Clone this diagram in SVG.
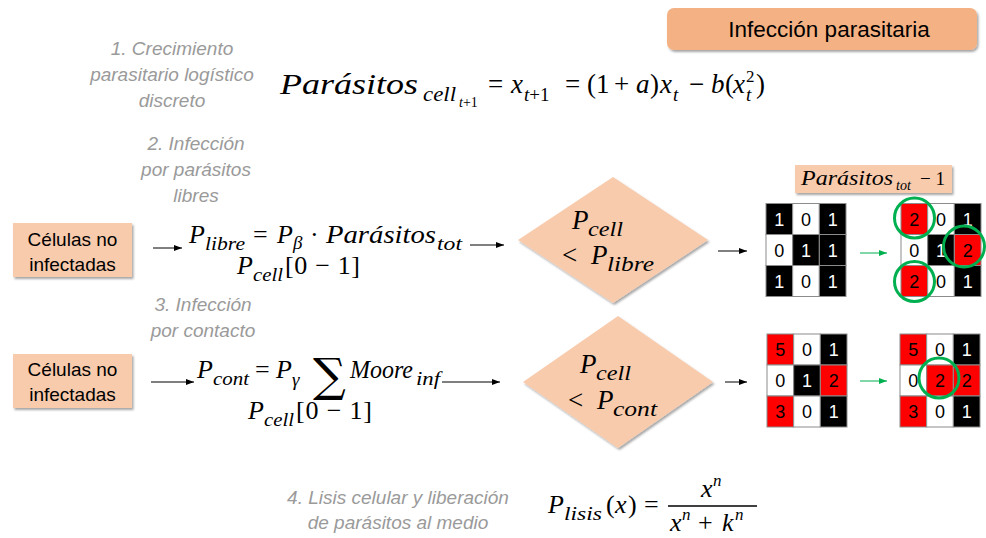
<svg xmlns="http://www.w3.org/2000/svg" width="986" height="538" viewBox="0 0 986 538">
<defs>
<style>
.m{font-family:"Liberation Serif","Times New Roman",serif;font-style:italic;fill:#000}
.u{font-style:normal}
.sig{font-family:"DejaVu Serif",serif;font-style:normal}
.f30{font-size:30px}.f27{font-size:27px}.f26{font-size:26px}.f21{font-size:21px}.f20{font-size:20px}.f19{font-size:19px}.f17{font-size:17px}.f14{font-size:14px}
.g{font-family:"Liberation Sans",Arial,sans-serif;font-style:italic;font-size:19px;fill:#9a9a9a;text-anchor:middle}
.lb{font-family:"Liberation Sans",Arial,sans-serif;font-size:19px;fill:#000;text-anchor:middle}
.dg{font-family:"Liberation Sans",Arial,sans-serif;font-size:18px;text-anchor:middle}
.peach{fill:#F8CBAD}
.cell{stroke:#8c8c8c;stroke-width:1}
.B{fill:#000}.W{fill:#fff}.R{fill:#FF0000}
.tw{fill:#fff}.tb{fill:#000}
.ring{fill:none;stroke:#00B050;stroke-width:3}
.ar{stroke:#000;stroke-width:1;fill:none;marker-end:url(#ah)}
.ag{stroke:#00B050;stroke-width:1;fill:none;marker-end:url(#ahg)}
</style>
<filter id="sh" x="-10%" y="-10%" width="125%" height="135%">
<feDropShadow dx="1.5" dy="2" stdDeviation="1.2" flood-color="#000" flood-opacity="0.35"/>
</filter>
<marker id="ah" viewBox="0 0 8 6" refX="8" refY="3" markerWidth="8" markerHeight="6" markerUnits="userSpaceOnUse" orient="auto">
<path d="M0,0 L8,3 L0,6 Z" fill="#000"/>
</marker>
<marker id="ahg" viewBox="0 0 8 6" refX="8" refY="3" markerWidth="8" markerHeight="6" markerUnits="userSpaceOnUse" orient="auto">
<path d="M0,0 L8,3 L0,6 Z" fill="#00B050"/>
</marker>
</defs>
<rect width="986" height="538" fill="#fff"/>

<g id="title">
<rect x="667" y="8" width="310" height="42" rx="7" fill="#F4B183" filter="url(#sh)"/>
<text x="829" y="37" font-family="Liberation Sans, Arial, sans-serif" font-size="22.5" text-anchor="middle" fill="#000">Infección parasitaria</text>
</g>

<g id="label-1">
<text class="g" x="172" y="55">1. Crecimiento</text>
<text class="g" x="172" y="81">parasitario logístico</text>
<text class="g" x="172" y="107">discreto</text>
</g>

<g id="formula-1">
<text class="m f30" x="280" y="94" textLength="138" lengthAdjust="spacingAndGlyphs">Parásitos</text>
<text class="m f20" x="423" y="101" textLength="33" lengthAdjust="spacingAndGlyphs">cell</text>
<text class="m f14" x="459" y="107">t<tspan class="u">+1</tspan></text>
<text class="m f27">
<tspan x="488" y="93" class="u">=</tspan>
<tspan x="511" y="93">x</tspan>
<tspan x="524" y="101" class="f19">t</tspan><tspan class="u f19">+1</tspan>
<tspan x="565" y="93" class="u">=</tspan>
<tspan x="587" y="93" class="u">(1</tspan>
<tspan x="614" y="93" class="u">+</tspan>
<tspan x="636" y="93">a</tspan>
<tspan x="650" y="93" class="u">)</tspan>
<tspan x="660" y="93">x</tspan>
<tspan x="673" y="101" class="f19">t</tspan>
<tspan x="689" y="93" class="u">−</tspan>
<tspan x="711" y="93">b</tspan>
<tspan x="725" y="93" class="u">(</tspan>
<tspan x="733" y="93">x</tspan>
<tspan x="746" y="82" class="u f17">2</tspan>
<tspan x="746" y="101" class="f19">t</tspan>
<tspan x="756" y="93" class="u">)</tspan>
</text>
</g>

<g id="label-2">
<text class="g" x="196" y="150">2. Infección</text>
<text class="g" x="196" y="176">por parásitos</text>
<text class="g" x="196" y="202">libres</text>
</g>

<g id="cells-1">
<rect x="13" y="223" width="119" height="54" class="peach" filter="url(#sh)"/>
<text class="lb" x="72.5" y="246">Células no</text>
<text class="lb" x="72.5" y="271">infectadas</text>
</g>

<g id="formula-2">
<text class="m f26" x="189" y="243">P</text>
<text class="m f19" x="205" y="250" textLength="40" lengthAdjust="spacingAndGlyphs">libre</text>
<text class="m f26">
<tspan x="253" y="243" class="u">=</tspan>
<tspan x="277" y="243">P</tspan>
<tspan x="293" y="249" class="f19">β</tspan>
<tspan x="310" y="243" class="u">·</tspan>
</text>
<text class="m f26" x="326" y="243" textLength="110" lengthAdjust="spacingAndGlyphs">Parásitos</text>
<text class="m f19" x="437" y="250" textLength="25" lengthAdjust="spacingAndGlyphs">tot</text>
<text class="m f26" x="237" y="274">P</text>
<text class="m f19" x="253" y="281" textLength="30" lengthAdjust="spacingAndGlyphs">cell</text>
<text class="m u f26" x="285" y="274" textLength="75" lengthAdjust="spacing">[0 − 1]</text>
</g>

<g id="decision-1">
<polygon points="518,240 613,177 708,240 613,303" class="peach" filter="url(#sh)"/>
<text class="m f27" x="572" y="229">P</text>
<text class="m f21" x="588" y="236" textLength="35" lengthAdjust="spacingAndGlyphs">cell</text>
<text class="m u f27" x="562" y="264">&lt;</text>
<text class="m f27" x="591" y="264">P</text>
<text class="m f21" x="607" y="271" textLength="47" lengthAdjust="spacingAndGlyphs">libre</text>
</g>

<g id="label-parasitos">
<rect x="795" y="165" width="157" height="28" class="peach" filter="url(#sh)"/>
<text class="m f20" x="801" y="185" textLength="92" lengthAdjust="spacingAndGlyphs">Parásitos</text>
<text class="m f14" x="896" y="190">tot</text>
<text class="m u f19" x="920" y="185">− 1</text>
</g>

<g id="grid-1" transform="translate(766,203.5)">
<rect class="cell B" x="0" y="0" width="26.67" height="31"/><rect class="cell W" x="26.67" y="0" width="26.67" height="31"/><rect class="cell B" x="53.33" y="0" width="26.67" height="31"/>
<rect class="cell W" x="0" y="31" width="26.67" height="31"/><rect class="cell B" x="26.67" y="31" width="26.67" height="31"/><rect class="cell B" x="53.33" y="31" width="26.67" height="31"/>
<rect class="cell B" x="0" y="62" width="26.67" height="31"/><rect class="cell W" x="26.67" y="62" width="26.67" height="31"/><rect class="cell B" x="53.33" y="62" width="26.67" height="31"/>
<text class="dg tw" x="13.3" y="22">1</text><text class="dg tb" x="40" y="22">0</text><text class="dg tw" x="66.7" y="22">1</text>
<text class="dg tb" x="13.3" y="53">0</text><text class="dg tw" x="40" y="53">1</text><text class="dg tw" x="66.7" y="53">1</text>
<text class="dg tw" x="13.3" y="84">1</text><text class="dg tb" x="40" y="84">0</text><text class="dg tw" x="66.7" y="84">1</text>
</g>

<g id="grid-2" transform="translate(901,203.5)">
<rect class="cell R" x="0" y="0" width="26.67" height="31"/><rect class="cell W" x="26.67" y="0" width="26.67" height="31"/><rect class="cell B" x="53.33" y="0" width="26.67" height="31"/>
<rect class="cell W" x="0" y="31" width="26.67" height="31"/><rect class="cell B" x="26.67" y="31" width="26.67" height="31"/><rect class="cell R" x="53.33" y="31" width="26.67" height="31"/>
<rect class="cell R" x="0" y="62" width="26.67" height="31"/><rect class="cell W" x="26.67" y="62" width="26.67" height="31"/><rect class="cell B" x="53.33" y="62" width="26.67" height="31"/>
<text class="dg tb" x="13.3" y="22">2</text><text class="dg tb" x="40" y="22">0</text><text class="dg tw" x="66.7" y="22">1</text>
<text class="dg tb" x="13.3" y="53">0</text><text class="dg tw" x="40" y="53">1</text><text class="dg tb" x="66.7" y="53">2</text>
<text class="dg tb" x="13.3" y="84">2</text><text class="dg tb" x="40" y="84">0</text><text class="dg tw" x="66.7" y="84">1</text>
<circle class="ring" cx="13.5" cy="14.5" r="20"/>
<circle class="ring" cx="63" cy="43" r="20.5"/>
<circle class="ring" cx="13.5" cy="78" r="20"/>
</g>

<g id="label-3">
<text class="g" x="203" y="311">3. Infección</text>
<text class="g" x="203" y="337">por contacto</text>
</g>

<g id="cells-2">
<rect x="13" y="354" width="119" height="54" class="peach" filter="url(#sh)"/>
<text class="lb" x="72.5" y="376">Células no</text>
<text class="lb" x="72.5" y="401">infectadas</text>
</g>

<g id="formula-3">
<text class="m f26" x="197" y="378">P</text>
<text class="m f19" x="213" y="385" textLength="36" lengthAdjust="spacingAndGlyphs">cont</text>
<text class="m f26">
<tspan x="255" y="378" class="u">=</tspan>
<tspan x="276" y="378">P</tspan>
<tspan x="292" y="386" class="f19">γ</tspan>
</text>
<text class="sig" x="313" y="391" font-size="46">∑</text>
<text class="m f26" x="350" y="378" textLength="63" lengthAdjust="spacingAndGlyphs">Moore</text>
<text class="m f19" x="416" y="385" textLength="24" lengthAdjust="spacingAndGlyphs">inf</text>
<text class="m f26" x="248" y="419">P</text>
<text class="m f19" x="264" y="426" textLength="30" lengthAdjust="spacingAndGlyphs">cell</text>
<text class="m u f26" x="296" y="419" textLength="76" lengthAdjust="spacing">[0 − 1]</text>
</g>

<g id="decision-2">
<polygon points="523,382 618,316 713,382 618,448" class="peach" filter="url(#sh)"/>
<text class="m f27" x="580" y="373">P</text>
<text class="m f21" x="596" y="380" textLength="35" lengthAdjust="spacingAndGlyphs">cell</text>
<text class="m u f27" x="568" y="409">&lt;</text>
<text class="m f27" x="597" y="409">P</text>
<text class="m f21" x="613" y="416" textLength="44" lengthAdjust="spacingAndGlyphs">cont</text>
</g>

<g id="grid-3" transform="translate(767,334)">
<rect class="cell R" x="0" y="0" width="26.67" height="31"/><rect class="cell W" x="26.67" y="0" width="26.67" height="31"/><rect class="cell B" x="53.33" y="0" width="26.67" height="31"/>
<rect class="cell W" x="0" y="31" width="26.67" height="31"/><rect class="cell B" x="26.67" y="31" width="26.67" height="31"/><rect class="cell R" x="53.33" y="31" width="26.67" height="31"/>
<rect class="cell R" x="0" y="62" width="26.67" height="31"/><rect class="cell W" x="26.67" y="62" width="26.67" height="31"/><rect class="cell B" x="53.33" y="62" width="26.67" height="31"/>
<text class="dg tb" x="13.3" y="22">5</text><text class="dg tb" x="40" y="22">0</text><text class="dg tw" x="66.7" y="22">1</text>
<text class="dg tb" x="13.3" y="53">0</text><text class="dg tw" x="40" y="53">1</text><text class="dg tb" x="66.7" y="53">2</text>
<text class="dg tb" x="13.3" y="84">3</text><text class="dg tb" x="40" y="84">0</text><text class="dg tw" x="66.7" y="84">1</text>
</g>

<g id="grid-4" transform="translate(900,334)">
<rect class="cell R" x="0" y="0" width="26.67" height="31"/><rect class="cell W" x="26.67" y="0" width="26.67" height="31"/><rect class="cell B" x="53.33" y="0" width="26.67" height="31"/>
<rect class="cell W" x="0" y="31" width="26.67" height="31"/><rect class="cell R" x="26.67" y="31" width="26.67" height="31"/><rect class="cell R" x="53.33" y="31" width="26.67" height="31"/>
<rect class="cell R" x="0" y="62" width="26.67" height="31"/><rect class="cell W" x="26.67" y="62" width="26.67" height="31"/><rect class="cell B" x="53.33" y="62" width="26.67" height="31"/>
<text class="dg tb" x="13.3" y="22">5</text><text class="dg tb" x="40" y="22">0</text><text class="dg tw" x="66.7" y="22">1</text>
<text class="dg tb" x="13.3" y="53">0</text><text class="dg tb" x="40" y="53">2</text><text class="dg tb" x="66.7" y="53">2</text>
<text class="dg tb" x="13.3" y="84">3</text><text class="dg tb" x="40" y="84">0</text><text class="dg tw" x="66.7" y="84">1</text>
<circle class="ring" cx="39" cy="44" r="20"/>
</g>

<g id="label-4">
<text class="g" x="398" y="504">4. Lisis celular y liberación</text>
<text class="g" x="398" y="529">de parásitos al medio</text>
</g>

<g id="formula-4">
<text class="m f26" x="548" y="513">P</text>
<text class="m f19" x="564" y="520" textLength="38" lengthAdjust="spacingAndGlyphs">lisis</text>
<text class="m f26">
<tspan x="606" y="513" class="u">(</tspan>
<tspan x="615" y="513">x</tspan>
<tspan x="628" y="513" class="u">)</tspan>
<tspan x="644" y="513" class="u">=</tspan>
<tspan x="701" y="497">x</tspan>
<tspan x="713" y="486" class="f17">n</tspan>
<tspan x="670" y="531">x</tspan>
<tspan x="682" y="520" class="f17">n</tspan>
<tspan x="698" y="531" class="u">+</tspan>
<tspan x="722" y="531">k</tspan>
<tspan x="735" y="520" class="f17">n</tspan>
</text>
<line x1="668" y1="506" x2="757" y2="506" stroke="#000" stroke-width="1.3"/>
</g>

<g id="connectors">
<line class="ar" x1="153" y1="248" x2="182" y2="248"/>
<line class="ar" x1="470" y1="245" x2="504" y2="245"/>
<line class="ar" x1="718" y1="251" x2="747" y2="251"/>
<line class="ag" x1="860" y1="253" x2="887" y2="253"/>
<line class="ar" x1="151" y1="382" x2="194" y2="382"/>
<line class="ar" x1="442" y1="382" x2="500" y2="382"/>
<line class="ar" x1="725" y1="382" x2="747" y2="382"/>
<line class="ag" x1="860" y1="381" x2="887" y2="381"/>
</g>
</svg>
